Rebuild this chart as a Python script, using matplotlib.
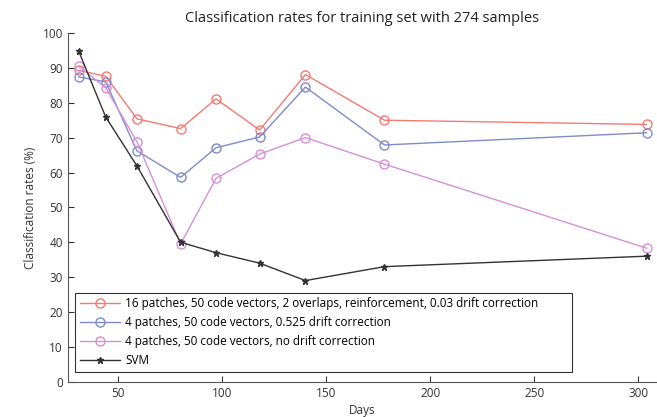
import matplotlib
matplotlib.use('Agg')
import matplotlib.pyplot as plt

# values
days = [31, 44, 59, 80, 97, 118, 140, 178, 304]
patches16 = [89.3, 87.6, 75.4, 72.6, 81.1, 72.2, 88.1, 75.0, 73.8]
patches4_drift = [87.4, 86.0, 66.2, 58.6, 67.1, 70.2, 84.5, 67.9, 71.4]
patches4_nodrift = [90.5, 84.3, 68.8, 39.5, 58.3, 65.3, 70.0, 62.4, 38.3]
svm = [94.8, 75.9, 61.9, 40.0, 37.0, 34.0, 29.0, 33.0, 36.0]

labels = ['16 patches, 50 code vectors, 2 overlaps, reinforcement, 0.03 drift correction',
          '4 patches, 50 code vectors, 0.525 drift correction',
          '4 patches, 50 code vectors, no drift correction',
          'SVM']

plt.rcParams['font.family'] = ['Open Sans', 'DejaVu Sans']

fig = plt.figure(figsize=(6.57, 4.17), dpi=100)
ax = fig.add_axes([0.103, 0.0847, 0.897, 0.836])

ax.plot(days, patches16, 'o-', color='#f47a72', lw=1, ms=6.5, mfc='none', label=labels[0])
ax.plot(days, patches4_drift, 'o-', color='#7f8ccc', lw=1, ms=6.5, mfc='none', label=labels[1])
ax.plot(days, patches4_nodrift, 'o-', color='#d68fd6', lw=1, ms=6.5, mfc='none', label=labels[2])
ax.plot(days, svm, '*-', color='#333333', lw=1, ms=5, label=labels[3])

ax.set_xlim(25.7, 309)
ax.set_ylim(0, 100)
ax.set_xticks([50, 100, 150, 200, 250, 300])
ax.set_yticks(range(0, 101, 10))
ax.tick_params(direction='in', length=4, labelsize=8.5, colors='#333333')
for s in ['top', 'right']:
    ax.spines[s].set_visible(False)
for s in ['left', 'bottom']:
    ax.spines[s].set_color('#555555')

ax.set_xlabel('Days', fontsize=8.5, color='#333333', labelpad=3)
ax.set_ylabel('Classification rates (%)', fontsize=8.5, color='#333333')
ax.set_title('Classification rates for training set with 274 samples', fontsize=10.5, color='#222222', pad=8)

leg = ax.legend(loc='lower left', bbox_to_anchor=(0.0124, 0.0287, 0.843, 0.2), mode='expand',
                fontsize=8.5, fancybox=False, framealpha=1, edgecolor='#333333',
                handlelength=3.4, handletextpad=0.45, labelspacing=0.5, borderaxespad=0)
leg.get_frame().set_linewidth(0.8)

fig.savefig('out.png', dpi=100)
